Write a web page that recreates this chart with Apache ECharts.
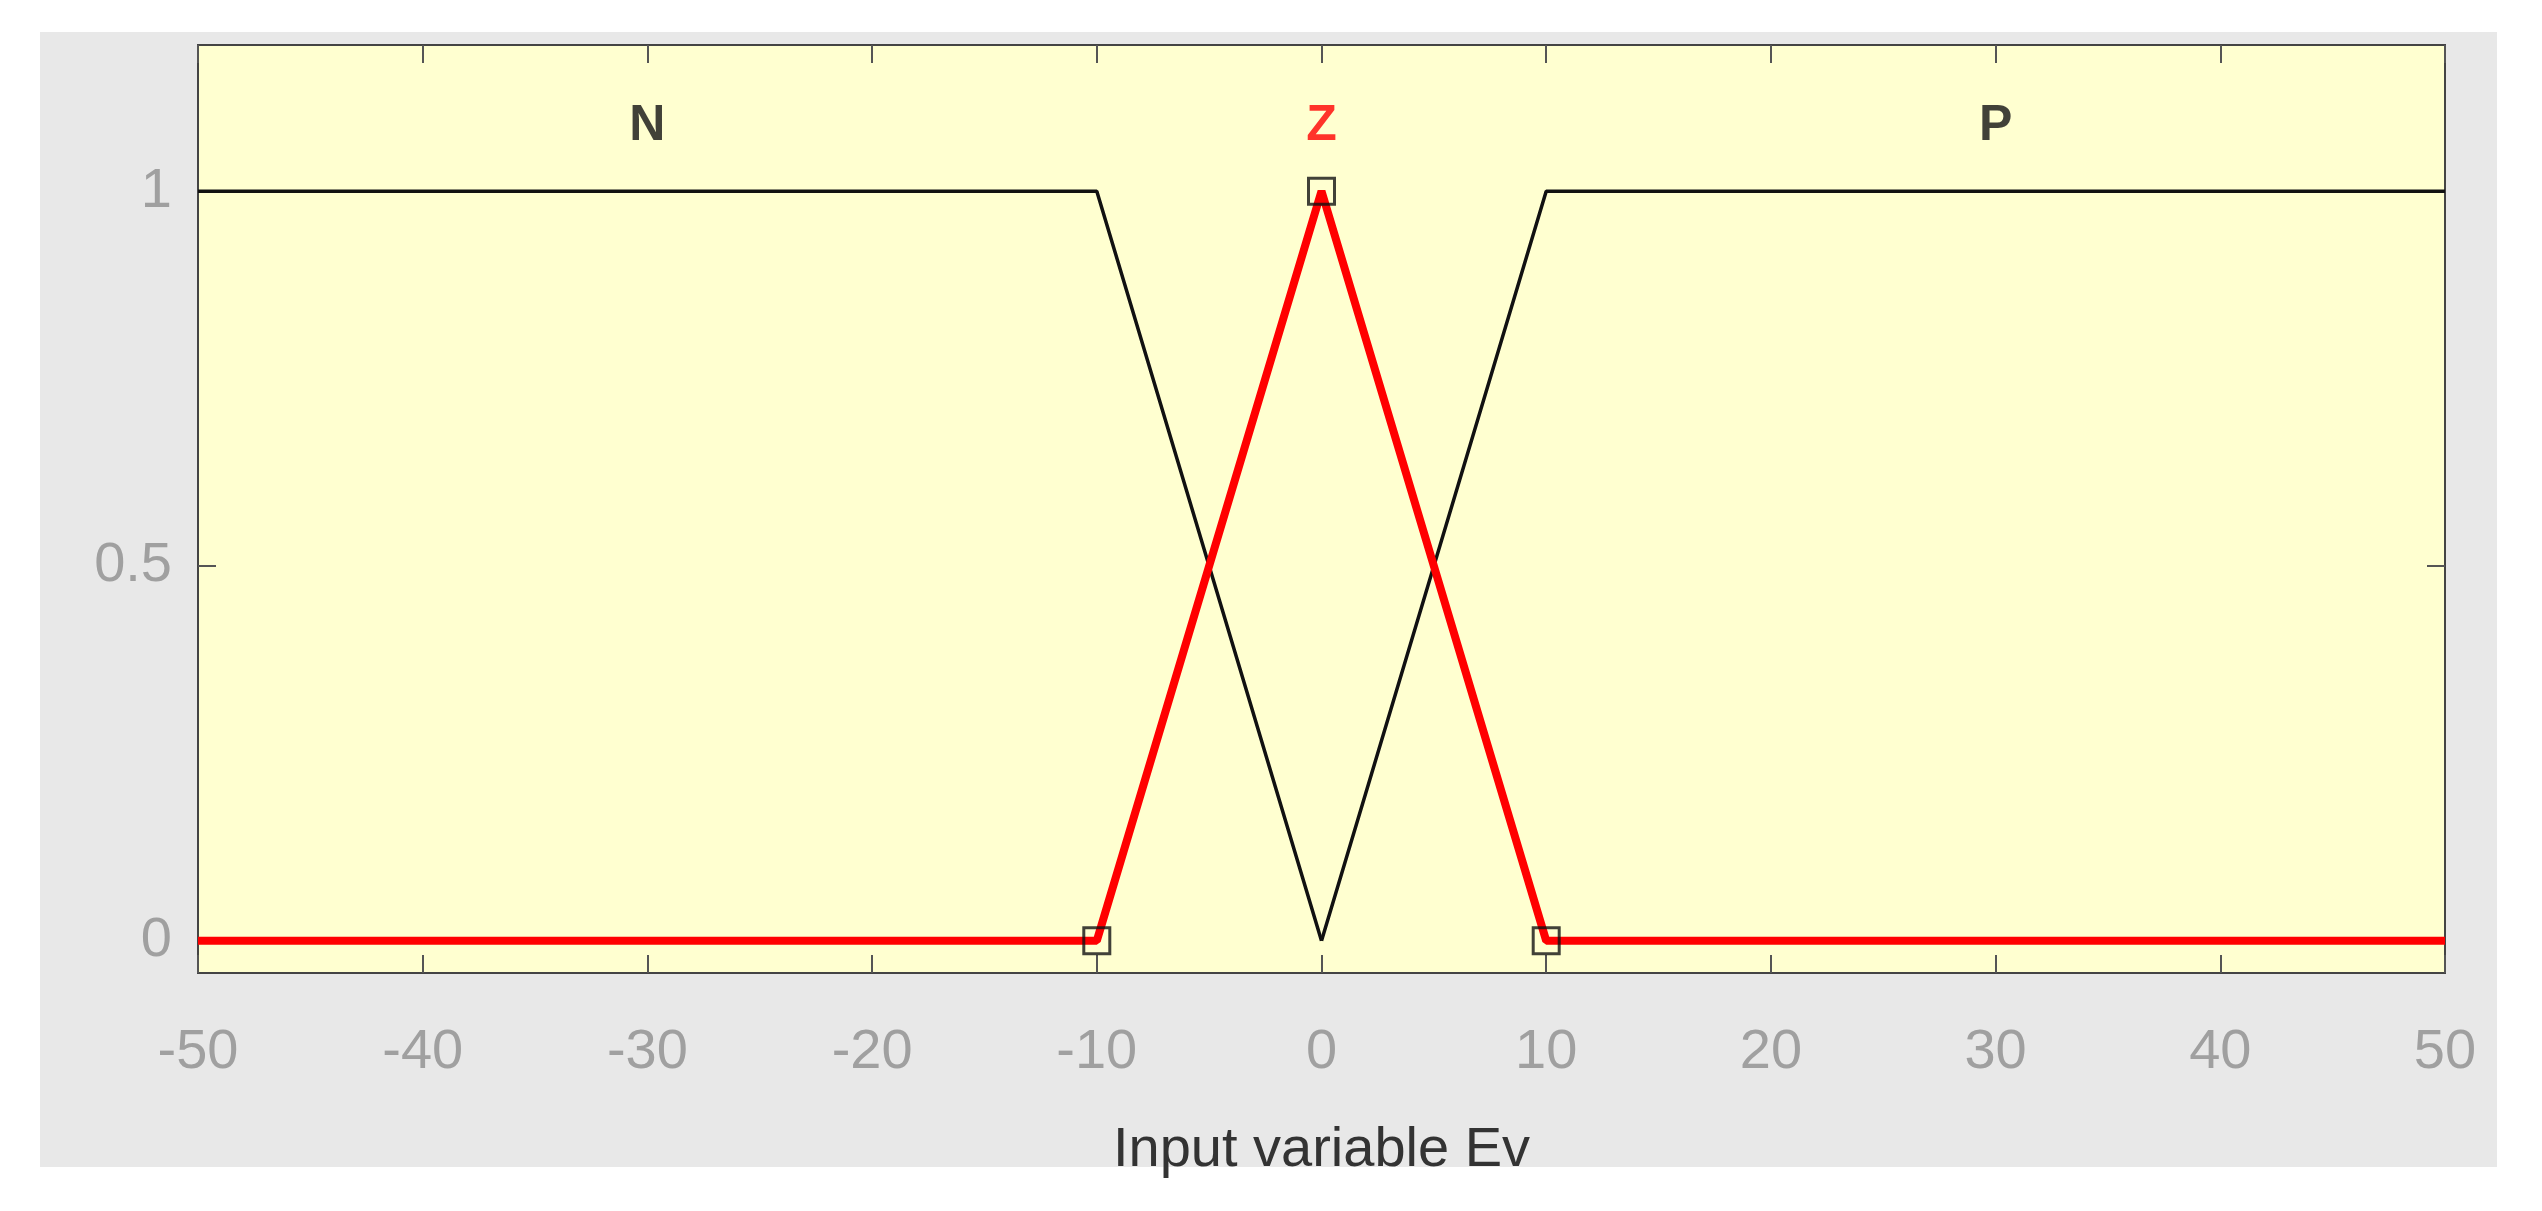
<!DOCTYPE html><html><head><meta charset="utf-8">
<script src="https://cdn.jsdelivr.net/npm/echarts@6/dist/echarts.min.js"></script>
<style>html,body{margin:0;background:#fff}#c{width:2542px;height:1211px}</style></head><body><div id="c"></div>
<script>
const xTicks=[-50,-40,-30,-20,-10,0,10,20,30,40,50];
const yTicks=[0,0.5,1];
const nX=[-50,-10,0], nY=[1,1,0];
const zX=[-50,-10,0,10,50], zY=[0,0,1,0,0];
const pX=[0,10,50], pY=[0,1,1];
const markX=[-10,0,10], markY=[0,1,0];
const labels=['N','Z','P'], labelX=[-30,0,30], labelY=[1.087,1.087,1.087];
const labelColors=['#111','#ff0000','#111'];
const pair=(a,b)=>a.map((v,i)=>[v,b[i]]);
const ch=echarts.init(document.getElementById('c'));
const tickFont={color:'#a0a0a0',fontSize:56,fontFamily:'Liberation Sans Narrow, Liberation Sans'};
const tick={inside:true,length:18,lineStyle:{color:'#555',width:2}};
ch.setOption({
 animation:false,
 graphic:[{type:'rect',z:-10,shape:{x:40,y:32,width:2457,height:1135},style:{fill:'#e8e8e8'}}],
 grid:{left:198,right:97,top:45,bottom:238,show:true,backgroundColor:'#ffffd0',borderColor:'#444',borderWidth:2},
 xAxis:[{type:'value',min:-50,max:50,name:'Input variable Ev',nameLocation:'middle',nameGap:150,
   nameTextStyle:{color:'#333',fontSize:56,fontFamily:'Liberation Sans Narrow, Liberation Sans'},
   axisLine:{show:false,onZero:false},splitLine:{show:false},
   axisTick:{...tick,customValues:xTicks},
   axisLabel:{...tickFont,margin:52,customValues:xTicks}},
  {type:'value',position:'top',min:-50,max:50,axisLine:{show:false,onZero:false},splitLine:{show:false},axisLabel:{show:false},
   axisTick:{...tick,customValues:xTicks}}],
 yAxis:[{type:'value',min:-0.043,max:1.195,axisLine:{show:false,onZero:false},splitLine:{show:false},
   axisTick:{...tick,customValues:yTicks},
   axisLabel:{...tickFont,margin:26,customValues:yTicks}},
  {type:'value',position:'right',min:-0.043,max:1.195,axisLine:{show:false,onZero:false},splitLine:{show:false},axisLabel:{show:false},
   axisTick:{...tick,customValues:yTicks}}],
 series:[
  {type:'line',data:pair(nX,nY),symbol:'none',lineStyle:{color:'#111',width:3.5},z:2},
  {type:'line',data:pair(pX,pY),symbol:'none',lineStyle:{color:'#111',width:3.5},z:2},
  {type:'line',data:pair(zX,zY),symbol:'none',lineStyle:{color:'#ff0000',width:8},z:3},
  {type:'scatter',data:pair(markX,markY),symbol:'rect',symbolSize:26,itemStyle:{color:'rgba(0,0,0,0)',borderColor:'#111',borderWidth:3},z:4},
  {type:'scatter',symbolSize:0,itemStyle:{color:'transparent'},
   data:labels.map((t,i)=>({value:[labelX[i],labelY[i]],name:t,
     label:{show:true,position:'inside',formatter:t,fontSize:50,fontWeight:'bold',fontFamily:'Liberation Sans',color:labelColors[i]}}))}
 ]
});
</script></body></html>
